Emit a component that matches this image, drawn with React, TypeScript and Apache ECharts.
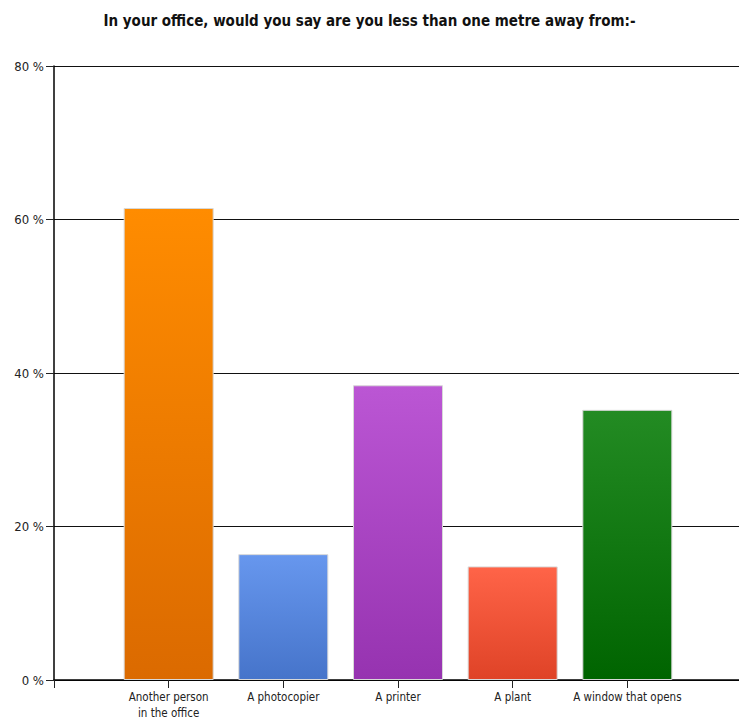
import React, { useEffect, useRef } from "react";
import * as echarts from "echarts";

const categories = ["Another person\nin the office", "A photocopier", "A printer", "A plant", "A window that opens"];
const values = [61.5, 16.4, 38.4, 14.8, 35.2];
const yTicks = [0, 20, 40, 60, 80];
const topColors = ["#FF8C00", "#6797EE", "#BB56D4", "#FF6448", "#238B23"];
const bottomColors = ["#DB6A00", "#4674CA", "#9633B0", "#DF4327", "#006400"];

const FONT = "'Liberation Sans Narrow', 'Arial Narrow', 'DejaVu Sans Condensed', sans-serif";

export default function App() {
  const ref = useRef<HTMLDivElement>(null);
  useEffect(() => {
    if (!ref.current) return;
    const chart = echarts.init(ref.current, null, { renderer: "svg" });
    chart.setOption({
      animation: false,
      backgroundColor: "#ffffff",
      title: {
        text: "In your office, would you say are you less than one metre away from:-",
        left: "center",
        top: 8,
        textStyle: { fontFamily: FONT, fontSize: 15, fontWeight: "bold", color: "#111" },
      },
      grid: { left: 54, top: 66, bottom: 39, width: 688, outerBoundsMode: "none", containLabel: false },
      xAxis: {
        type: "value",
        min: 0,
        max: 6,
        interval: 1,
        axisLine: { show: true, onZero: false, lineStyle: { color: "#000", width: 1.5 } },
        axisTick: { show: true, length: 8, lineStyle: { color: "#222" } },
        splitLine: { show: false },
        axisLabel: {
          fontFamily: FONT,
          fontSize: 11.5,
          color: "#222",
          margin: 9,
          lineHeight: 16,
          formatter: (v: number) => (v >= 1 && v <= categories.length ? categories[v - 1] : ""),
        },
      },
      yAxis: {
        type: "value",
        min: yTicks[0],
        max: yTicks[yTicks.length - 1],
        interval: 20,
        axisLine: { show: true, lineStyle: { color: "#000", width: 1.5 } },
        axisTick: { show: true, length: 8, lineStyle: { color: "#222" } },
        splitLine: { show: true, lineStyle: { color: "#111", width: 1 } },
        axisLabel: {
          fontFamily: FONT,
          fontSize: 13,
          color: "#222",
          margin: 10,
          formatter: "{value} %",
        },
      },
      series: [
        {
          type: "bar",
          barWidth: 90,
          data: values.map((v, i) => ({
            value: [i + 1, v],
            itemStyle: {
              color: new echarts.graphic.LinearGradient(0, 0, 0, 1, [
                { offset: 0, color: topColors[i] },
                { offset: 1, color: bottomColors[i] },
              ]),
              borderColor: "#d8d8d8",
              borderWidth: 1,
            },
          })),
        },
      ],
    });
    return () => chart.dispose();
  }, []);
  return (
    <div
      ref={ref}
      style={{ position: "absolute", left: 0, top: 0, width: 739, height: 719, overflow: "hidden" }}
    />
  );
}
